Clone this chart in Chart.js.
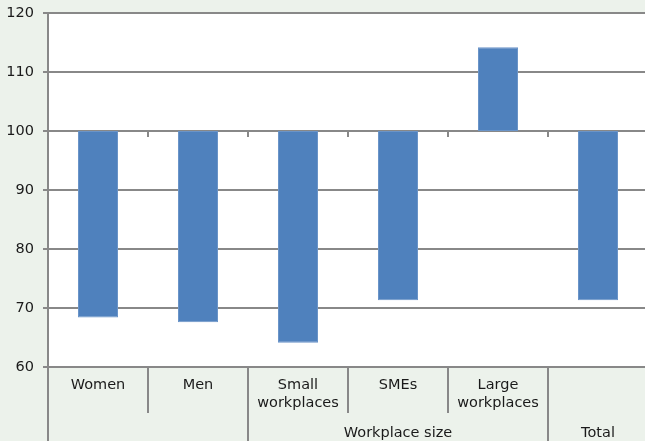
<!DOCTYPE html>
<html>
<head>
<meta charset="utf-8">
<script src="https://cdn.jsdelivr.net/npm/chart.js@4.4.0/dist/chart.umd.min.js"></script>
<style>
  html, body { margin: 0; padding: 0; overflow: hidden; background: #ecf2eb; }
  canvas { display: block; }
</style>
</head>
<body>
<canvas id="chart" width="648" height="441"></canvas>
<script>
// index values, base = 100
const categories = [['Women'], ['Men'], ['Small', 'workplaces'], ['SMEs'], ['Large', 'workplaces'], ['']];
const values = [68.4, 67.6, 64.1, 71.3, 114.2, 71.3];
const baseValue = 100;
const yTicks = [60, 70, 80, 90, 100, 110, 120];
// grouped labels under the categories (index ranges)
const groupLabels = ['Workplace size', 'Total'];
const groupFrom = [2, 5];
const groupTo = [4, 5];

const lineGrey = '#888888';
const textColor = '#1a1a1a';
const fontFamily = '"DejaVu Sans", Verdana, sans-serif';

const tablePlugin = {
  id: 'table',
  beforeDraw(chart) {
    const ctx = chart.ctx, a = chart.chartArea;
    ctx.save();
    ctx.fillStyle = '#ecf2eb';
    ctx.fillRect(0, 0, chart.width, chart.height);
    ctx.fillStyle = '#ffffff';
    ctx.fillRect(a.left, a.top, a.right - a.left, a.bottom - a.top);
    ctx.restore();
  },
  afterDraw(chart) {
    const ctx = chart.ctx, a = chart.chartArea;
    const x = chart.scales.x, y = chart.scales.y;
    const half = (x.getPixelForValue(1) - x.getPixelForValue(0)) / 2;
    const edge = i => x.getPixelForValue(i) - half;
    const longEdges = [];
    groupFrom.forEach((f, k) => { longEdges.push(f, groupTo[k] + 1); });

    ctx.save();
    ctx.strokeStyle = lineGrey;
    ctx.lineWidth = 2;

    // y axis continues down through the label table
    ctx.beginPath();
    ctx.moveTo(a.left, a.bottom);
    ctx.lineTo(a.left, chart.height);
    ctx.stroke();

    // dividers between category labels
    for (let i = 1; i < categories.length; i++) {
      const px = Math.round(edge(i));
      ctx.beginPath();
      ctx.moveTo(px, a.bottom);
      ctx.lineTo(px, longEdges.includes(i) ? chart.height : a.bottom + 46);
      ctx.stroke();
    }

    // category axis crosses at 100: small tick marks
    const y100 = y.getPixelForValue(baseValue);
    for (let i = 1; i < categories.length; i++) {
      const px = Math.round(edge(i));
      ctx.beginPath();
      ctx.moveTo(px, y100);
      ctx.lineTo(px, y100 + 6);
      ctx.stroke();
    }

    // group labels
    ctx.fillStyle = textColor;
    ctx.font = '14.5px ' + fontFamily;
    ctx.textAlign = 'center';
    ctx.textBaseline = 'middle';
    groupLabels.forEach((g, k) => {
      const cx = (edge(groupFrom[k]) + edge(groupTo[k] + 1)) / 2;
      ctx.fillText(g, cx, a.bottom + 66);
    });
    ctx.restore();
  }
};

new Chart(document.getElementById('chart').getContext('2d'), {
  type: 'bar',
  data: {
    labels: categories,
    datasets: [{
      data: values.map(v => [baseValue, v]),
      backgroundColor: '#4f81bd',
      borderColor: '#6a94c8',
      borderWidth: 1,
      borderSkipped: false,
      barPercentage: 0.4,
      categoryPercentage: 1.0
    }]
  },
  options: {
    responsive: false,
    animation: false,
    layout: { padding: { top: 13, right: 0, left: 0, bottom: 0 } },
    plugins: {
      legend: { display: false },
      tooltip: { enabled: false }
    },
    scales: {
      x: {
        grid: { display: false, drawTicks: false },
        border: { display: false },
        ticks: {
          color: textColor,
          font: { family: fontFamily, size: 14.5 },
          padding: 10,
          maxRotation: 0,
          autoSkip: false
        },
        afterFit: s => { s.height = 74; }
      },
      y: {
        min: 60,
        max: 120,
        afterBuildTicks: s => { s.ticks = yTicks.map(v => ({ value: v })); },
        grid: { color: lineGrey, lineWidth: 2, tickLength: 5 },
        border: { color: lineGrey, width: 2 },
        ticks: {
          color: textColor,
          font: { family: fontFamily, size: 14.5 },
          padding: 9
        },
        afterFit: s => { s.width = 48; s.paddingTop = 0; s.paddingBottom = 0; }
      }
    }
  },
  plugins: [tablePlugin]
});
</script>
</body>
</html>
